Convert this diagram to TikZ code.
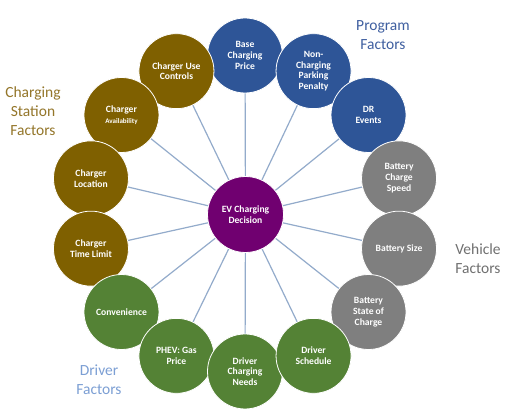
\documentclass[tikz,border=0pt]{standalone}
\usepackage{fontspec}
\setmainfont{Carlito}
\usetikzlibrary{calc}
\pgfdeclarelayer{spokes}
\pgfsetlayers{spokes,main}
\definecolor{progblue}{HTML}{2E5597}
\definecolor{stgold}{HTML}{7F6000}
\definecolor{vehgray}{HTML}{7F7F7F}
\definecolor{drvgreen}{HTML}{548235}
\definecolor{cpurple}{HTML}{700070}
\definecolor{spoke}{HTML}{93ABCB}
\definecolor{lblprog}{HTML}{3F5FA0}
\definecolor{lblgold}{HTML}{94762A}
\definecolor{lblgray}{HTML}{707070}
\definecolor{lbldrv}{HTML}{7C9FD4}
\tikzset{
  factor/.style={circle, minimum size=75pt, inner sep=0pt, draw=white, line width=0.8pt,
    text=white, align=center, font=\fontsize{9.6}{10.8}\selectfont\bfseries},
  prog/.style={factor, fill=progblue},
  stat/.style={factor, fill=stgold},
  veh/.style={factor, fill=vehgray},
  drv/.style={factor, fill=drvgreen},
  hub/.style={factor, fill=cpurple, minimum size=76pt},
  spokeline/.style={draw=spoke, line width=1.2pt},
  grouplabel/.style={align=center, font=\fontsize{15.5}{19}\selectfont}
}
\begin{document}
\begin{tikzpicture}[x=1pt,y=-1pt]
\useasboundingbox (0,0) rectangle (523,417);
\coordinate (ring) at (245,213.5);
\foreach \k in {0,...,13}
  \coordinate (p\k) at ($(ring)+(-90+\k*25.7143:158)$);
% right side, clockwise from top
\node[prog] (base) at (p0) {Base\\Charging\\Price};
\node[prog] (nonch) at (p1) {Non-\\Charging\\Parking\\Penalty};
\node[prog] (dr) at (p2) {DR\\Events};
\node[veh] (speed) at (p3) {Battery\\Charge\\Speed};
\node[veh] (size) at (p4) {Battery Size};
\node[veh] (soc) at (p5) {Battery\\State of\\Charge};
% left side, counterclockwise from top
\node[stat] (use) at (p13) {Charger Use\\Controls};
\node[stat] (avail) at (p12) {Charger\\{\fontsize{7}{8.5}\selectfont Availability}};
\node[stat] (loc) at (p11) {Charger\\Location};
\node[stat] (tlim) at (p10) {Charger\\Time Limit};
\node[drv] (conv) at (p9) {Convenience};
\node[drv] (phev) at (p8) {PHEV: Gas\\Price};
\node[drv] (needs) at (p7) {Driver\\Charging\\Needs};
\node[drv] (sched) at (p6) {Driver\\Schedule};
\node[hub] (ev) at (245.5,214.5) {EV Charging\\Decision};
% spokes behind the circles
\begin{pgfonlayer}{spokes}
\fill[white] (0,0) rectangle (523,417);
\foreach \t in {base,nonch,dr,speed,size,soc,sched,needs,phev,conv,tlim,loc,avail,use}
  \path[spokeline] (ev.center) -- (\t.center);
\end{pgfonlayer}
% group labels
\node[grouplabel, text=lblprog] (lprog) at (383,35) {Program\\Factors};
\node[grouplabel, text=lblgold] (lstat) at (33,111) {Charging\\Station\\Factors};
\node[grouplabel, text=lblgray] (lveh) at (478,259) {Vehicle\\Factors};
\node[grouplabel, text=lbldrv] (ldrv) at (99,380) {Driver\\Factors};
\end{tikzpicture}
\end{document}
